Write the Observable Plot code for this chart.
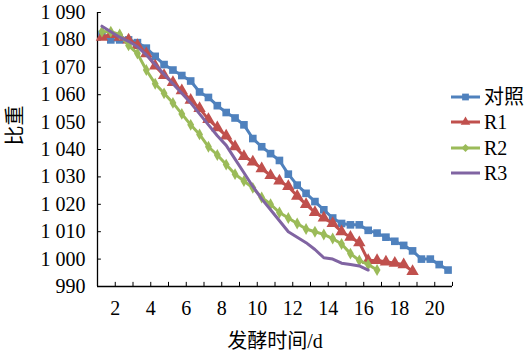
<!DOCTYPE html>
<html><head><meta charset="utf-8">
<script src="https://cdn.jsdelivr.net/npm/d3@7"></script>
<script src="https://cdn.jsdelivr.net/npm/@observablehq/plot@0.6"></script>
<style>
body{margin:0;background:#fff;}
#wrap{position:relative;width:529px;height:358px;font-family:'Liberation Serif','DejaVu Serif',serif;}
#wrap svg text{font-family:'Liberation Serif','DejaVu Serif',serif !important;font-weight:normal;}
#wrap svg text.cjk{font-family:'Liberation Serif','Noto Sans CJK SC',serif !important;}
#legend{position:absolute;left:450px;top:84px;}
.item{display:flex;align-items:center;height:25.5px;font-size:20px;color:#000;line-height:1;font-family:'Liberation Serif','Noto Sans CJK SC',serif;}
.item svg{margin-right:3px;}
</style></head><body><div id="wrap"></div>
<script>
const seriesNames = ["对照", "R1", "R2", "R3"];
const colors = ["#4F81BD", "#C0504D", "#9BBB59", "#8064A2"];
const symbols = ["square", "triangle", "diamond", null];
const days = [1.25, 1.75, 2.25, 2.75, 3.25, 3.75, 4.25, 4.75, 5.25, 5.75,
  6.25, 6.75, 7.25, 7.75, 8.25, 8.75, 9.25, 9.75, 10.25, 10.75,
  11.25, 11.75, 12.25, 12.75, 13.25, 13.75, 14.25, 14.75, 15.25, 15.75,
  16.25, 16.75, 17.25, 17.75, 18.25, 18.75, 19.25, 19.75, 20.25, 20.75];
const control = [1082, 1080, 1080, 1080, 1079, 1077, 1074, 1071, 1069, 1067,
  1065, 1061, 1059, 1056, 1053.5, 1051.5, 1049, 1044, 1041, 1038.5,
  1036, 1031, 1027, 1024, 1021, 1018, 1015, 1013, 1012.5, 1012.5,
  1010.5, 1009.5, 1008, 1006.5, 1005, 1003, 1000, 1000, 998, 996];
const r1 = [1081, 1082, 1081, 1080, 1078, 1075, 1070.5, 1067, 1064.5, 1061.5,
  1058, 1055, 1051, 1048, 1045, 1041, 1037.5, 1035.5, 1033, 1030.5,
  1028.5, 1026.5, 1023, 1020, 1017, 1015, 1013, 1010, 1008, 1006,
  999.5, 999.5, 999, 998.5, 998, 995.5];
const r2 = [1083, 1083, 1082, 1078, 1075, 1069, 1064, 1060.5, 1057, 1053,
  1049, 1045.5, 1041, 1038, 1034.5, 1031, 1028.5, 1026, 1022.5, 1020,
  1017, 1015, 1013, 1011, 1010, 1009, 1007.5, 1005.5, 1002, 999.5,
  998, 996];
const r3 = [1085, 1083, 1081, 1079.5, 1077.5, 1074.5, 1071, 1067.5, 1064, 1060.5,
  1057, 1053, 1049, 1045, 1041.5, 1036.5, 1031.5, 1026.5, 1022, 1018,
  1014, 1010, 1008, 1006, 1003.5, 1000.5, 1000, 998.5, 998, 997.5, 996];
const xTickLabels = [2, 4, 6, 8, 10, 12, 14, 16, 18, 20];
const xMinorTicks = [2, 3, 4, 5, 6, 7, 8, 9, 10, 11, 12, 13, 14, 15, 16, 17, 18, 19, 20, 21];
const yTicks = [990, 1000, 1010, 1020, 1030, 1040, 1050, 1060, 1070, 1080, 1090];

const allSeries = [control, r1, r2, r3];
const rows = [];
allSeries.forEach((vals, s) => vals.forEach((v, i) => rows.push({series: seriesNames[s], day: days[i], sg: v})));

const fmt = d => d >= 1000 ? String(d).replace(/^(\d)(\d{3})$/, "$1 $2") : String(d);
const font = "'Liberation Serif','DejaVu Serif',serif";

const seriesMarks = [];
seriesNames.forEach((name, s) => {
  const data = rows.filter(r => r.series === name);
  seriesMarks.push(Plot.line(data, {x: "day", y: "sg", stroke: colors[s], strokeWidth: 3, curve: "linear"}));
  if (symbols[s]) {
    const r = symbols[s] === "diamond" ? 3.6 : symbols[s] === "triangle" ? 4.6 : 4.3;
    seriesMarks.push(Plot.dot(data, {x: "day", y: "sg", symbol: symbols[s], r, fill: colors[s], stroke: "none"}));
  }
});

const chart = Plot.plot({
  width: 529, height: 358,
  marginLeft: 97, marginRight: 77, marginTop: 12, marginBottom: 72,
  x: {domain: [1, 21]},
  y: {domain: [990, 1090]},
  style: {fontFamily: font, fontSize: "20px", color: "#000", background: "transparent", overflow: "visible"},
  marks: [
    Plot.axisX(xTickLabels, {tickSize: 0, tickPadding: 14, fontSize: 20, label: null, tickFormat: d => String(d)}),
    Plot.axisY(yTicks, {tickSize: 0, tickPadding: 12, fontSize: 20, label: null, tickFormat: fmt}),
    Plot.ruleX(xMinorTicks, {x: d => d, y1: 990, y2: 991.5, stroke: "#000", strokeWidth: 1}),
    Plot.ruleY(yTicks, {y: d => d, x1: 1, x2: 1.22, stroke: "#000", strokeWidth: 1}),
    Plot.ruleX([1], {stroke: "#000", strokeWidth: 1.3}),
    Plot.ruleY([990], {stroke: "#000", strokeWidth: 1.3}),
    ...seriesMarks,
    Plot.text(["比重"], {frameAnchor: "left", dx: -82, dy: -4, rotate: -90, fontSize: 20, text: d => d, className: "cjk"}),
    Plot.text(["发酵时间/d"], {frameAnchor: "bottom", dy: 55, lineAnchor: "middle", fontSize: 20, text: d => d, className: "cjk"})
  ]
});

const wrap = document.getElementById("wrap");
wrap.appendChild(chart);
d3.select(chart).selectAll("g.cjk text, .cjk text").classed("cjk", true);

const legend = d3.select(wrap).append("div").attr("id", "legend");
seriesNames.forEach((name, s) => {
  const item = legend.append("div").attr("class", "item");
  const svg = item.append("svg").attr("width", 31).attr("height", 14);
  svg.append("line").attr("x1", 1).attr("x2", 30).attr("y1", 7).attr("y2", 7)
    .attr("stroke", colors[s]).attr("stroke-width", 3);
  if (symbols[s]) {
    const type = symbols[s] === "square" ? d3.symbolSquare2 : symbols[s] === "triangle" ? d3.symbolTriangle2 : d3.symbolDiamond2;
    const r = symbols[s] === "diamond" ? 3.6 : symbols[s] === "triangle" ? 4.6 : 4.3;
    svg.append("path").attr("transform", "translate(15.5,7)")
      .attr("d", d3.symbol(type, Math.PI * r * r)()).attr("fill", colors[s]);
  }
  item.append("span").text(name);
});
</script></body></html>
